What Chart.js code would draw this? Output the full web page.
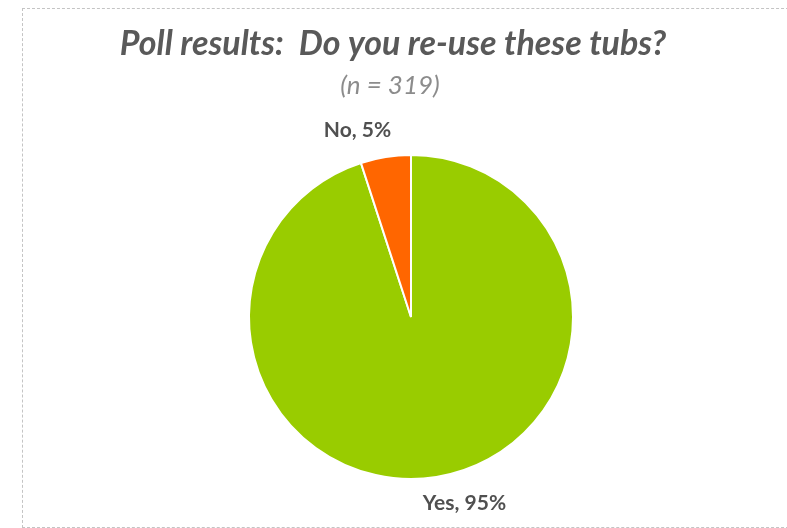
<!DOCTYPE html>
<html>
<head>
<meta charset="utf-8">
<script src="https://cdn.jsdelivr.net/npm/chart.js@4.4.1/dist/chart.umd.min.js"></script>
<style>
  html, body { margin: 0; padding: 0; background: #fff; overflow: hidden; }
  #wrap { position: relative; width: 787px; height: 528px; }
  #frame { position: absolute; left: 22px; top: 8px; width: 800px; height: 518px; border: 1px dashed #c4c4c4; }
  canvas { position: absolute; left: 0; top: 0; }
</style>
</head>
<body>
<div id="wrap">
  <div id="frame"></div>
  <canvas id="poll" width="787" height="528"></canvas>
</div>
<script>
// poll data
const categories = ['Yes', 'No'];
const percents = [95, 5];
const sliceColors = ['#99CC00', '#FF6600'];
const titleText = 'Poll results:  Do you re-use these tubs?';
const subtitleText = '(n = 319)';

// title, subtitle and the "Category, xx%" labels
const textPlugin = {
  id: 'pollText',
  afterDraw(chart) {
    const ctx = chart.ctx;
    ctx.save();
    ctx.textAlign = 'center';

    ctx.textBaseline = 'alphabetic';
    ctx.fillStyle = '#595959';
    ctx.font = 'italic bold 34px Lato';
    ctx.fillText(titleText, 393, 55);

    ctx.fillStyle = '#8c8c8c';
    ctx.font = 'italic 26px Lato';
    ctx.fillText(subtitleText, 390, 94);

    ctx.textBaseline = 'middle';
    ctx.fillStyle = '#505050';
    ctx.font = 'bold 21px Lato';
    const arcs = chart.getDatasetMeta(0).data;
    arcs.forEach((arc, i) => {
      const p = arc.getProps(['x', 'y', 'startAngle', 'endAngle', 'outerRadius'], true);
      const mid = (p.startAngle + p.endAngle) / 2 - 7 * Math.PI / 180;
      const dist = p.outerRadius + 32;
      const lx = p.x + Math.cos(mid) * dist;
      const ly = p.y + Math.sin(mid) * dist;
      ctx.fillText(categories[i] + ', ' + percents[i] + '%', lx, ly);
    });
    ctx.restore();
  }
};

const ctx = document.getElementById('poll').getContext('2d');
new Chart(ctx, {
  type: 'pie',
  data: {
    labels: categories,
    datasets: [{
      data: percents,
      backgroundColor: sliceColors,
      borderColor: '#ffffff',
      borderWidth: 2,
      hoverOffset: 0
    }]
  },
  options: {
    responsive: false,
    animation: false,
    layout: {
      padding: { left: 248, right: 213, top: 154, bottom: 48 }
    },
    plugins: {
      legend: { display: false },
      tooltip: { enabled: false },
      title: { display: false }
    }
  },
  plugins: [textPlugin]
});
</script>
</body>
</html>
